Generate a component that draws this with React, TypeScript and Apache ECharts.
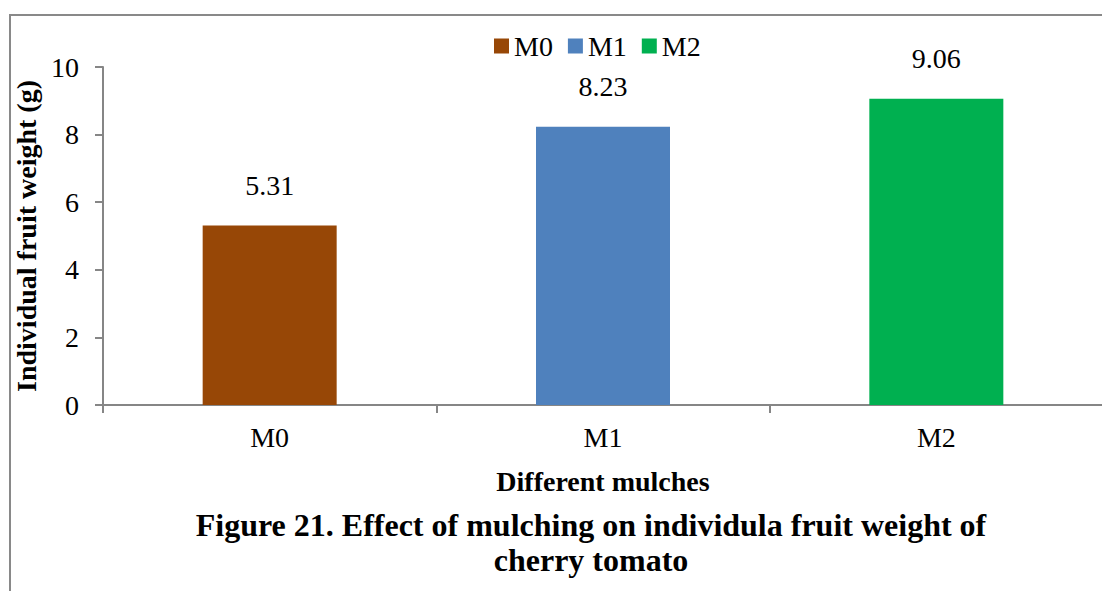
import React, { useEffect, useRef } from "react";
import * as echarts from "echarts";

const categories = ["M0", "M1", "M2"];
const seriesNames = ["M0", "M1", "M2"];
const values = [5.31, 8.23, 9.06];
const colors = ["#974706", "#4F81BD", "#00B050"];
const yTicks = { min: 0, max: 10, interval: 2 };
const titleLines = [
  "Figure 21. Effect of mulching on individula fruit weight of",
  "cherry tomato",
];
const FONT = "Liberation Serif";

export default function App() {
  const ref = useRef<HTMLDivElement>(null);
  useEffect(() => {
    document.body.style.margin = "0";
    if (!ref.current) return;
    const chart = echarts.init(ref.current, null, { renderer: "svg" });
    const series = seriesNames.map((name, i) => ({
      name,
      type: "bar" as const,
      stack: "all",
      barWidth: 134,
      data: categories.map((_, j) => (j === i ? values[j] : null)),
      itemStyle: { color: colors[i] },
      label: {
        show: true,
        position: "top" as const,
        distance: 26,
        fontFamily: FONT,
        fontSize: 28,
        lineHeight: 28,
        color: "#000",
      },
    }));
    chart.setOption({
      animation: false,
      backgroundColor: "#fff",
      textStyle: { fontFamily: FONT },
      legend: {
        data: seriesNames,
        left: 489,
        top: 27,
        itemWidth: 15,
        itemHeight: 15,
        itemGap: 15,
        icon: "rect",
        textStyle: { fontFamily: FONT, fontSize: 28, color: "#000" },
      },
      grid: {
        left: 103,
        top: 67,
        width: 1000,
        height: 338,
        containLabel: false,
        outerBoundsMode: "none",
      },
      xAxis: {
        type: "category",
        data: categories,
        name: "Different mulches",
        nameLocation: "middle",
        nameGap: 62,
        nameTextStyle: {
          fontFamily: FONT,
          fontSize: 28,
          fontWeight: "bold",
          color: "#000",
          verticalAlign: "top",
        },
        axisLine: { lineStyle: { color: "#868686", width: 2 } },
        axisTick: { show: true, length: 8, lineStyle: { color: "#868686", width: 2 } },
        axisLabel: { fontFamily: FONT, fontSize: 28, color: "#000", margin: 18 },
      },
      yAxis: {
        type: "value",
        min: yTicks.min,
        max: yTicks.max,
        interval: yTicks.interval,
        name: "Individual fruit weight (g)",
        nameLocation: "middle",
        nameGap: 48,
        nameRotate: 90,
        nameTextStyle: {
          fontFamily: FONT,
          fontSize: 28,
          fontWeight: "bold",
          color: "#000",
        },
        splitLine: { show: false },
        axisLine: { show: true, lineStyle: { color: "#868686", width: 2 } },
        axisTick: { show: true, length: 8, lineStyle: { color: "#868686", width: 2 } },
        axisLabel: { fontFamily: FONT, fontSize: 28, color: "#000", margin: 24 },
      },
      graphic: [
        {
          type: "rect",
          shape: { x: 10, y: 15, width: 1300, height: 800 },
          style: { fill: "none", stroke: "#898989", lineWidth: 2 },
          silent: true,
        },
        {
          type: "text",
          x: 591,
          y: 525,
          style: {
            text: titleLines[0],
            fontFamily: FONT,
            fontSize: 32,
            fontWeight: "bold",
            fill: "#000",
            textAlign: "center",
            textVerticalAlign: "middle",
          },
        },
        {
          type: "text",
          x: 591,
          y: 560,
          style: {
            text: titleLines[1],
            fontFamily: FONT,
            fontSize: 32,
            fontWeight: "bold",
            fill: "#000",
            textAlign: "center",
            textVerticalAlign: "middle",
          },
        },
      ],
      series,
    });
    return () => chart.dispose();
  }, []);
  return <div ref={ref} style={{ width: 1102, height: 591 }} />;
}
